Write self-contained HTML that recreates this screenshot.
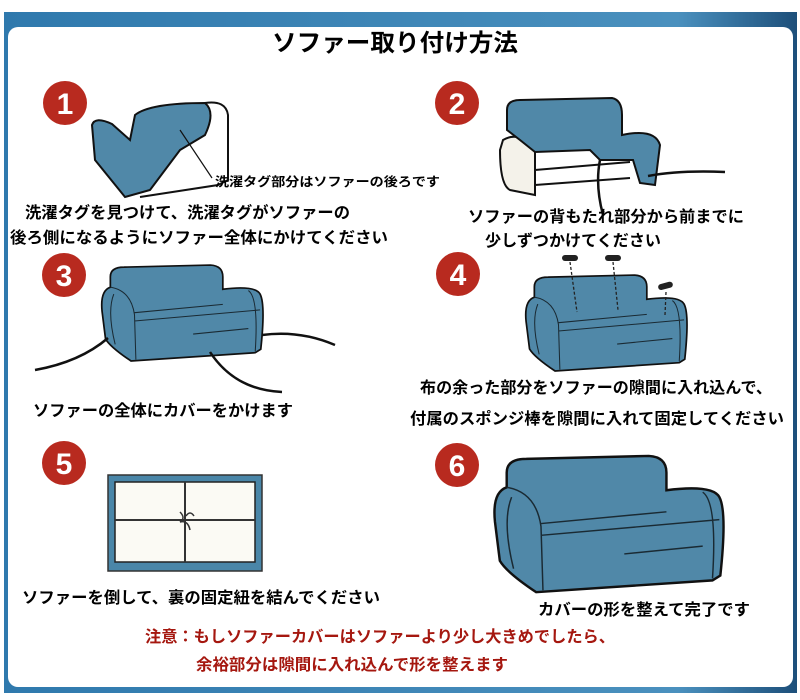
<!DOCTYPE html>
<html><head><meta charset="utf-8"><style>
html,body{margin:0;padding:0;background:#fff}
svg{display:block}
text{font-family:"Liberation Sans","Noto Sans CJK JP",sans-serif;font-weight:bold}
</style></head><body>
<svg width="800" height="700" viewBox="0 0 800 700" xmlns="http://www.w3.org/2000/svg">
<defs>
<linearGradient id="tb" x1="0" x2="1"><stop offset="0" stop-color="#2f79ad"/><stop offset="0.85" stop-color="#4a90be"/><stop offset="1" stop-color="#1d4f7a"/></linearGradient>
<g id="sofa">
<path d="M3,70 Q0,40 15,35 L15,20 Q15,6 35,6 L160,3 Q178,4 178,20 L178,38 Q225,32 232,45 Q240,60 233,125 L225,130 L45,142 Q15,122 8,110 Z" fill="#5088a8" stroke="#111" stroke-width="2.5"/>
<path d="M15,35 Q45,40 50,75 L52,140 M50,72 L178,60 M50,84 L232,68 M135,103 L215,95 M215,40 Q230,50 225,128 M20,45 Q10,70 22,118" fill="none" stroke="#1a2a33" stroke-width="1.5"/>
</g>
</defs>
<rect x="0" y="0" width="800" height="700" fill="#fff"/>
<rect x="4" y="12" width="793" height="681" fill="url(#tb)"/>
<rect x="8" y="27" width="785" height="660" rx="10" fill="#fff"/>
<text x="272" y="51" font-size="24" textLength="246" lengthAdjust="spacingAndGlyphs">ソファー取り付け方法</text>

<g fill="#b82a1f">
<circle cx="65" cy="103" r="22"/><circle cx="457" cy="103" r="22"/>
<circle cx="64" cy="275" r="22"/><circle cx="458" cy="274" r="22"/>
<circle cx="64" cy="463" r="22"/><circle cx="457" cy="465" r="22"/>
</g>
<g fill="#fff" font-size="30" text-anchor="middle" style="font-weight:normal">
<text x="65" y="114">1</text><text x="457" y="114">2</text>
<text x="64" y="286">3</text><text x="458" y="285">4</text>
<text x="64" y="474">5</text><text x="457" y="476">6</text>
</g>

<!-- step 1 -->
<path d="M205,103 Q226,100 228,115 L228,180 L218,185 L140,197" fill="#fff" stroke="#111" stroke-width="2"/>
<path d="M92,125 Q95,116 112,124 L130,140 L135,115 Q150,103 205,103 Q216,112 205,135 L180,150 L150,190 L125,197 L95,160 Z" fill="#5088a8" stroke="#111" stroke-width="2"/>
<line x1="180" y1="130" x2="212" y2="178" stroke="#111" stroke-width="1.2"/>
<text x="215" y="186" font-size="12.5" textLength="225" lengthAdjust="spacingAndGlyphs">洗濯タグ部分はソファーの後ろです</text>
<text x="25" y="218" font-size="16" textLength="325" lengthAdjust="spacingAndGlyphs">洗濯タグを見つけて、洗濯タグがソファーの</text>
<text x="10" y="243" font-size="16" textLength="378" lengthAdjust="spacingAndGlyphs">後ろ側になるようにソファー全体にかけてください</text>

<!-- step 2 -->
<path d="M503,140 Q520,130 535,150 L535,195 L510,190 Q500,185 500,150 Z M535,150 L640,140 M535,170 L630,162 M535,185 L630,178" fill="#f4f2ea" stroke="#111" stroke-width="2"/>
<path d="M507,110 Q507,100 520,100 L612,98 Q622,100 622,115 L622,135 Q655,128 660,145 L655,185 L640,183 L633,160 L600,160 L590,150 L535,152 L520,140 L507,130 Z" fill="#5088a8" stroke="#111" stroke-width="2"/>
<path d="M600,160 Q595,185 603,215 M648,176 Q680,170 725,172" fill="none" stroke="#111" stroke-width="2.5"/>
<text x="468" y="222" font-size="16" textLength="276" lengthAdjust="spacingAndGlyphs">ソファーの背もたれ部分から前までに</text>
<text x="485" y="246" font-size="16" textLength="176" lengthAdjust="spacingAndGlyphs">少しずつかけてください</text>

<!-- step 3 -->
<use href="#sofa" transform="translate(100,263) scale(0.69)"/>
<path d="M108,338 Q80,362 35,370 M210,352 Q235,390 282,392 M262,335 Q300,330 335,345" fill="none" stroke="#111" stroke-width="2.5"/>
<text x="33" y="416" font-size="16" textLength="260" lengthAdjust="spacingAndGlyphs">ソファーの全体にカバーをかけます</text>

<!-- step 4 -->
<use href="#sofa" transform="translate(524,273) scale(0.69)"/>
<g fill="#222"><rect x="562" y="255" width="16" height="6" rx="3"/><rect x="605" y="255" width="16" height="6" rx="3"/><rect x="658" y="283" width="15" height="6" rx="3" transform="rotate(-15 665 286)"/></g>
<path d="M570,262 L577,312 M613,262 L618,310 M666,292 L665,315" stroke="#222" stroke-width="1.3" stroke-dasharray="3,2" fill="none"/>
<text x="420" y="393" font-size="16" textLength="352" lengthAdjust="spacingAndGlyphs">布の余った部分をソファーの隙間に入れ込んで、</text>
<text x="410" y="424" font-size="16" textLength="374" lengthAdjust="spacingAndGlyphs">付属のスポンジ棒を隙間に入れて固定してください</text>

<!-- step 5 -->
<rect x="108" y="475" width="154" height="96" fill="#4a86a8" stroke="#333" stroke-width="1.5"/>
<rect x="115" y="482" width="140" height="80" fill="#fbfaf4" stroke="#222" stroke-width="1.5"/>
<path d="M185,482 L185,562 M115,520 L255,520" stroke="#333" stroke-width="2"/>
<path d="M180,512 q6,6 0,10 q8,-2 10,8 M186,516 q4,-6 8,0" stroke="#333" stroke-width="1.5" fill="none"/>
<text x="22" y="603" font-size="16" textLength="358" lengthAdjust="spacingAndGlyphs">ソファーを倒して、裏の固定紐を結んでください</text>

<!-- step 6 -->
<use href="#sofa" transform="translate(492,453) scale(0.98,0.98)"/>
<text x="538" y="615" font-size="16" textLength="212" lengthAdjust="spacingAndGlyphs">カバーの形を整えて完了です</text>

<text x="145" y="642" font-size="16" fill="#a5170f" textLength="470" lengthAdjust="spacingAndGlyphs">注意：もしソファーカバーはソファーより少し大きめでしたら、</text>
<text x="196" y="670" font-size="16" fill="#a5170f" textLength="312" lengthAdjust="spacingAndGlyphs">余裕部分は隙間に入れ込んで形を整えます</text>
</svg>
</body></html>
